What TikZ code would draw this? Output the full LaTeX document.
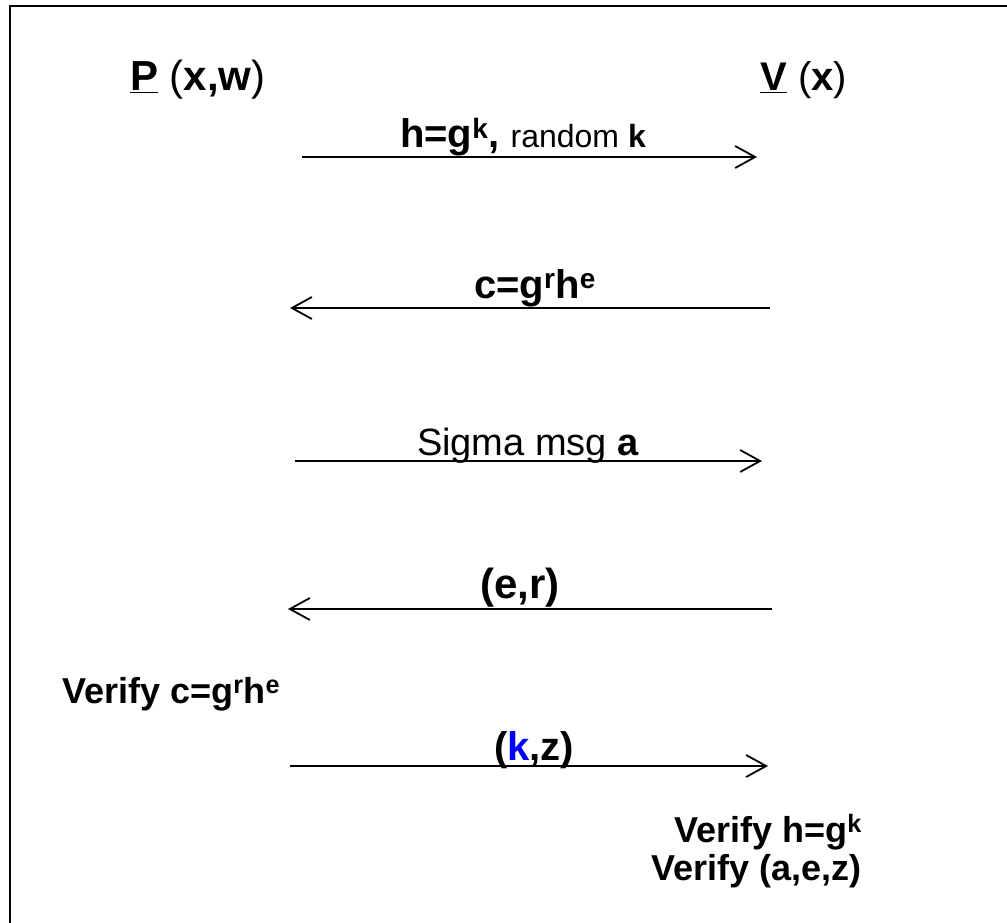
\documentclass[tikz,border=0pt]{standalone}
\usepackage{fontspec}
\setmainfont{Liberation Sans}
\usetikzlibrary{arrows.meta}
\newcommand{\lblsize}{\fontsize{36}{40}\selectfont}
\newcommand{\msgsize}{\fontsize{40}{44}\selectfont}
\newcommand{\smlsize}{\fontsize{32}{35}\selectfont}
\tikzset{
  msg/.style={line width=1.8pt, -{Straight Barb[length=20pt,width=22pt,line width=1.8pt]}},
  lbl/.style={anchor=base, inner sep=0pt, font=\msgsize},
  party/.style={anchor=base west, inner sep=0pt, font=\msgsize},
  check/.style={inner sep=0pt, font=\lblsize},
}
\begin{document}
\begin{tikzpicture}[x=1pt,y=-1pt]
  \useasboundingbox (0,0) rectangle (1007,923);
  % frame (only the left and top edges fall inside the page)
  \draw[line width=2.5pt] (10,930) -- (10,6) -- (1015,6);

  % parties
  \node[party, font=\fontsize{42}{46}\selectfont] (P) at (130,91) {\textbf{\underline{P}} (\textbf{x,w})};
  \node[party] (V) at (760,91) {\textbf{\underline{V}} (\textbf{x})};

  % message end points
  \coordinate (m1s) at (302,157);  \coordinate (m1e) at (757,157);
  \coordinate (m2s) at (770,308);  \coordinate (m2e) at (290,308);
  \coordinate (m3s) at (295,461);  \coordinate (m3e) at (762,461);
  \coordinate (m4s) at (772,609);  \coordinate (m4e) at (288,609);
  \coordinate (m5s) at (290,766);  \coordinate (m5e) at (768,766);

  \draw[msg] (m1s) -- (m1e);
  \draw[msg] (m2s) -- (m2e);
  \draw[msg] (m3s) -- (m3e);
  \draw[msg] (m4s) -- (m4e);
  \draw[msg] (m5s) -- (m5e);

  % message labels
  \node[lbl] (l1) at (523,148) {\textbf{h=g\textsuperscript{k},} {\smlsize random \textbf{k}}};
  \node[lbl] (l2) at (535,298) {\textbf{c=g\textsuperscript{r}h\textsuperscript{e}}};
  \node[lbl, font=\fontsize{38}{42}\selectfont] (l3) at (528,455) {Sigma msg \textbf{a}};
  \node[lbl, font=\fontsize{42}{46}\selectfont] (l4) at (520,598) {\textbf{(e,r)}};
  \node[lbl] (l5) at (534,760) {\textbf{(\textcolor{blue}{k},z)}};

  % checks
  \node[check, anchor=base west] (chkP) at (62,703)
    {\textbf{Verify c=g\textsuperscript{r}h\textsuperscript{e}}};
  \node[check, anchor=base east] (chkV1) at (862,842)
    {\textbf{Verify h=g\textsuperscript{k}}};
  \node[check, anchor=base east] (chkV2) at (862,880)
    {\textbf{Verify (a,e,z)}};
\end{tikzpicture}
\end{document}
